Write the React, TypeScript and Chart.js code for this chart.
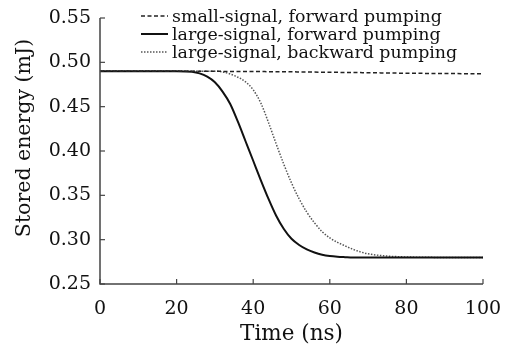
import React, { useEffect, useRef } from "react";
import { Chart, registerables } from "chart.js";

Chart.register(...registerables);

const timeNs = [0, 10, 20, 24, 26, 28, 30, 32, 34, 36, 38, 40, 42, 44, 46, 48, 50, 52, 54, 56, 58, 60, 62, 64, 66, 68, 70, 75, 80, 90, 100];
const smallForward = [0.49, 0.49, 0.49, 0.49, 0.49, 0.49, 0.49, 0.4898, 0.4898, 0.4897, 0.4897, 0.4896, 0.4896, 0.4895, 0.4895, 0.4894, 0.4893, 0.4892, 0.4891, 0.489, 0.4889, 0.4888, 0.4887, 0.4886, 0.4885, 0.4884, 0.4883, 0.488, 0.4877, 0.4874, 0.487];
const largeForward = [0.49, 0.49, 0.49, 0.4893, 0.4875, 0.4838, 0.4775, 0.467, 0.453, 0.433, 0.411, 0.389, 0.367, 0.346, 0.327, 0.312, 0.301, 0.294, 0.289, 0.2855, 0.283, 0.2815, 0.2807, 0.2803, 0.28, 0.28, 0.28, 0.28, 0.28, 0.28, 0.28];
const largeBackward = [0.49, 0.49, 0.49, 0.49, 0.49, 0.49, 0.49, 0.4893, 0.4868, 0.4832, 0.478, 0.469, 0.454, 0.432, 0.408, 0.385, 0.364, 0.346, 0.331, 0.319, 0.309, 0.302, 0.297, 0.293, 0.2892, 0.2862, 0.284, 0.2815, 0.2805, 0.28, 0.28];
const seriesLabels = ["small-signal, forward pumping", "large-signal, forward pumping", "large-signal, backward pumping"];
const xTicks = [0, 20, 40, 60, 80, 100];
const yTicks = [0.25, 0.3, 0.35, 0.4, 0.45, 0.5, 0.55];
const xTitle = "Time (ns)";
const yTitle = "Stored energy (mJ)";

const FONT = "'DejaVu Serif', serif";
const AXIS_COLOR = "#444";
const TEXT_COLOR = "#111";

const pts = (ys: number[]) => timeNs.map((t, i) => ({ x: t, y: ys[i] }));

const inwardTicks = {
  id: "inwardTicks",
  afterDraw(chart: any) {
    const { ctx, chartArea, scales } = chart;
    ctx.save();
    ctx.strokeStyle = AXIS_COLOR;
    ctx.lineWidth = 1.5;
    ctx.beginPath();
    ctx.moveTo(chartArea.left, chartArea.top);
    ctx.lineTo(chartArea.left, chartArea.bottom);
    ctx.lineTo(chartArea.right, chartArea.bottom);
    ctx.stroke();
    ctx.lineWidth = 1.2;
    for (const v of xTicks) {
      const x = scales.x.getPixelForValue(v);
      ctx.beginPath();
      ctx.moveTo(x, chartArea.bottom);
      ctx.lineTo(x, chartArea.bottom - 5);
      ctx.stroke();
    }
    for (const v of yTicks) {
      const y = scales.y.getPixelForValue(v);
      ctx.beginPath();
      ctx.moveTo(chartArea.left, y);
      ctx.lineTo(chartArea.left + 5, y);
      ctx.stroke();
    }
    // y-axis title
    ctx.fillStyle = TEXT_COLOR;
    ctx.font = `20.5px ${FONT}`;
    ctx.textAlign = "center";
    ctx.textBaseline = "middle";
    ctx.translate(25, 138);
    ctx.rotate(-Math.PI / 2);
    ctx.fillText(yTitle, 0, 0);
    ctx.restore();
  },
};

const customLegend = {
  id: "customLegend",
  afterDraw(chart: any) {
    const { ctx } = chart;
    ctx.save();
    ctx.font = `17.4px ${FONT}`;
    ctx.textBaseline = "middle";
    chart.data.datasets.forEach((ds: any, i: number) => {
      const y = 16 + i * 18;
      ctx.strokeStyle = ds.borderColor;
      ctx.lineWidth = ds.borderWidth;
      ctx.setLineDash(ds.borderDash || []);
      ctx.beginPath();
      ctx.moveTo(141, y);
      ctx.lineTo(168, y);
      ctx.stroke();
      ctx.setLineDash([]);
      ctx.fillStyle = TEXT_COLOR;
      ctx.fillText(ds.label, 172, y + 1);
    });
    ctx.restore();
  },
};

export default function App() {
  const ref = useRef<HTMLCanvasElement>(null);
  useEffect(() => {
    if (!ref.current) return;
    const chart = new Chart(ref.current, {
      type: "line",
      data: {
        datasets: [
          { label: seriesLabels[0], data: pts(smallForward), borderColor: "#222", borderWidth: 1.5, borderDash: [4, 2.5], pointRadius: 0, cubicInterpolationMode: "monotone" },
          { label: seriesLabels[1], data: pts(largeForward), borderColor: "#111", borderWidth: 2, pointRadius: 0, cubicInterpolationMode: "monotone" },
          { label: seriesLabels[2], data: pts(largeBackward), borderColor: "#555", borderWidth: 1.5, borderDash: [1.5, 1.5], pointRadius: 0, cubicInterpolationMode: "monotone" },
        ],
      },
      options: {
        animation: false,
        responsive: false,
        maintainAspectRatio: false,
        layout: { padding: { top: 18, right: 22, left: 0, bottom: 0 } },
        plugins: { legend: { display: false }, tooltip: { enabled: false } },
        scales: {
          x: {
            type: "linear",
            min: 0,
            max: 100,
            afterBuildTicks: (s: any) => { s.ticks = xTicks.map((v) => ({ value: v })); },
            afterFit: (s: any) => { s.height = 63; s.paddingLeft = 0; s.paddingRight = 0; },
            grid: { display: false, drawTicks: false },
            border: { display: false },
            ticks: { color: TEXT_COLOR, font: { family: FONT, size: 19 }, padding: 14, maxRotation: 0 },
            title: { display: true, text: xTitle, color: TEXT_COLOR, font: { family: FONT, size: 21.5 }, padding: { top: 0, bottom: 0 } },
          },
          y: {
            type: "linear",
            min: 0.25,
            max: 0.55,
            afterBuildTicks: (s: any) => { s.ticks = yTicks.map((v) => ({ value: v })); },
            afterFit: (s: any) => { s.width = 100; s.paddingTop = 0; s.paddingBottom = 0; },
            grid: { display: false, drawTicks: false },
            border: { display: false },
            ticks: { color: TEXT_COLOR, font: { family: FONT, size: 19 }, padding: 9, callback: (v: any) => Number(v).toFixed(2) },
            title: { display: false },
          },
        },
      },
      plugins: [inwardTicks, customLegend],
    } as any);
    return () => chart.destroy();
  }, []);
  return (
    <div style={{ position: "fixed", left: 0, top: 0, width: 505, height: 347, background: "#fff" }}>
      <canvas ref={ref} width={505} height={347} style={{ width: 505, height: 347 }} />
    </div>
  );
}
